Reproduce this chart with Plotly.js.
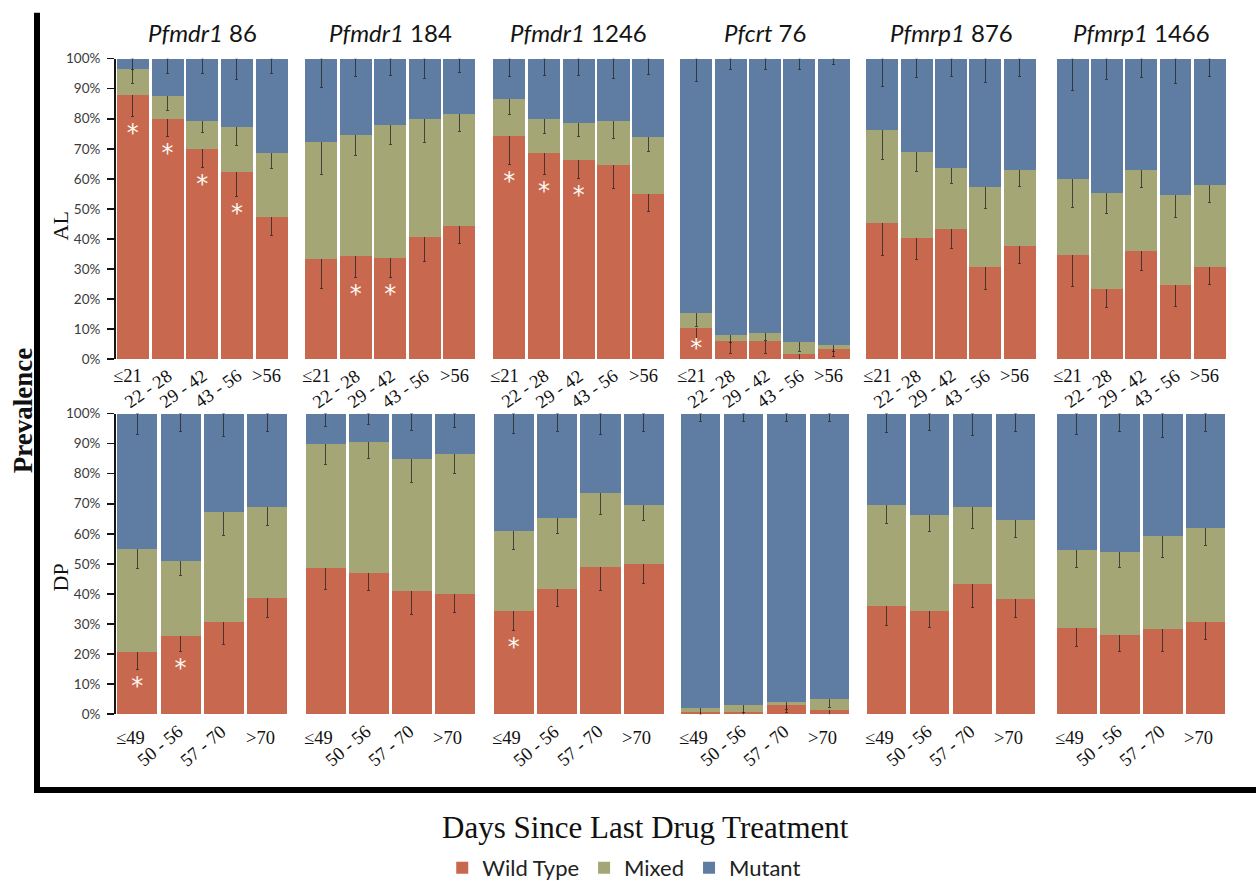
<!DOCTYPE html>
<html><head><meta charset="utf-8">
<script src="https://cdn.plot.ly/plotly-3.0.1.min.js"></script>
<style>html,body{margin:0;padding:0;background:#fff}#chart{width:1256px;height:889px}</style>
</head><body><div id="chart"></div>
<script>
// ---------- data ----------
const GENES = ['Pfmdr1','Pfmdr1','Pfmdr1','Pfcrt','Pfmrp1','Pfmrp1'];
const CODONS = ['86','184','1246','76','876','1466'];
const ROW_LABELS = ['AL','DP'];
const AL_CATS = ['≤21','22 - 28','29 - 42','43 - 56','>56'];
const DP_CATS = ['≤49','50 - 56','57 - 70','>70'];
const SERIES = ['Wild Type','Mixed','Mutant'];
const Y_TICKVALS = [0,10,20,30,40,50,60,70,80,90,100];
const Y_TICKTEXT = ['0%','10%','20%','30%','40%','50%','60%','70%','80%','90%','100%'];
const X_TITLE = 'Days Since Last Drug Treatment';
const Y_TITLE = 'Prevalence';

// AL row (percent), one inner array per gene panel
const AL_WILD   = [[87.8,80.0,69.9,62.2,47.3],[33.4,34.2,33.6,40.5,44.4],[74.3,68.5,66.3,64.6,55.1],[10.4,6.0,6.0,1.6,3.3],[45.4,40.3,43.2,30.7,37.6],[34.8,23.2,36.1,24.6,30.7]];
const AL_MIXED  = [[8.8,7.6,9.5,15.0,21.2],[38.7,40.5,44.2,39.5,37.2],[12.2,11.5,12.3,14.8,18.8],[5.1,2.2,2.7,4.1,1.3],[31.0,28.7,20.5,26.5,25.2],[25.2,32.1,26.9,29.9,27.1]];
const AL_MUTANT = [[3.4,12.4,20.6,22.8,31.5],[27.9,25.3,22.2,20.0,18.4],[13.5,20.0,21.4,20.6,26.1],[84.5,91.8,91.3,94.3,95.4],[23.6,31.0,36.3,42.8,37.2],[40.0,44.7,37.0,45.5,42.2]];
const AL_ERR_WILD   = [[7,6,6,8,6],[10,7,6.5,8,6],[9.5,7,6.3,7.8,6],[6,4,4,2.5,2.5],[11,7,6.5,7.4,5.7],[10.5,6,6.5,7.2,5.8]];
const AL_ERR_MIXED  = [[5,5,4,6,5],[10.5,7,6.5,8,6],[5,5,4.5,6,4.7],[4.7,2.5,2.5,3,2],[10,6.5,5.3,7.2,5.3],[9.4,6.7,5.8,7.5,5.5]];
const AL_ERR_MUTANT = [[3.5,5,5,7,5],[9.6,6,5.6,6.7,4.5],[6,5.6,5.6,6.7,5.3],[7.7,3.6,3.6,3.5,2],[9.3,6.3,6,8,5.8],[10.7,6.9,6.3,8.2,6]];
const AL_SIG = [[1,1,1,1,0],[0,1,1,0,0],[1,1,1,0,0],[1,0,0,0,0],[0,0,0,0,0],[0,0,0,0,0]];

// DP row
const DP_WILD   = [[20.7,26.0,30.6,38.6],[48.5,47.0,41.1,40.0],[34.4,41.6,49.0,49.8],[0.7,0.8,3.0,1.3],[36.1,34.2,43.3,38.3],[28.7,26.2,28.2,30.6]];
const DP_MIXED  = [[34.3,24.9,36.5,30.2],[41.4,43.7,43.9,46.6],[26.5,23.6,24.5,19.7],[1.3,2.4,1.0,3.6],[33.5,32.0,25.5,26.3],[26.0,27.7,31.2,31.3]];
const DP_MUTANT = [[45.0,49.1,32.9,31.2],[10.1,9.3,15.0,13.4],[39.1,34.8,26.5,30.5],[98.0,96.8,96.0,95.1],[30.4,33.8,31.2,35.4],[45.3,46.1,40.6,38.1]];
const DP_ERR_WILD   = [[5.7,5,7.4,6.4],[6.9,5.9,7.9,6.3],[6.6,5.8,8,6.4],[1.5,1.5,2.5,2],[6.6,5.5,7.8,6],[6.3,5.2,7.3,5.8]];
const DP_ERR_MIXED  = [[6.4,4.9,7.5,5.9],[6.7,5.5,7.8,6.4],[6.2,5.1,7,5.1],[2,2.5,2.5,2.8],[6.3,5.3,7,5.8],[5.9,5.2,7.4,5.9]];
const DP_ERR_MUTANT = [[6.9,5.8,7.7,6],[4.4,3.6,5.5,4.7],[6.6,5.8,7.1,6],[2.5,2.5,2.5,2.5],[6.2,5.5,7.4,6],[6.9,5.8,8,6]];
const DP_SIG = [[1,1,0,0],[0,0,0,0],[1,0,0,0],[0,0,0,0],[0,0,0,0],[0,0,0,0]];

// ---------- styling / layout ----------
const COLORS = ['#C8684F','#A4A775','#5F7CA3'];
const W = 1256, H = 889;
const COL_PX = [[115.5,289],[304,476.5],[492,665.5],[679,851],[865,1037],[1055.5,1227]];
const ROW_PX = [[59.3,363.3],[418.3,722.3]];
const px = p => p / W, py = p => 1 - p / H;
const SANS = 'Lato, "Open Sans", sans-serif';
const SERIF = '"Liberation Serif", "Times New Roman", serif';

const rows = [
  {cats: AL_CATS, wild: AL_WILD, mixed: AL_MIXED, mut: AL_MUTANT, ew: AL_ERR_WILD, em: AL_ERR_MIXED, eu: AL_ERR_MUTANT, sig: AL_SIG, angle: -35},
  {cats: DP_CATS, wild: DP_WILD, mixed: DP_MIXED, mut: DP_MUTANT, ew: DP_ERR_WILD, em: DP_ERR_MIXED, eu: DP_ERR_MUTANT, sig: DP_SIG, angle: -40}
];

const traces = [];
const layout = {
  width: W, height: H,
  margin: {l: 0, r: 0, t: 0, b: 0},
  paper_bgcolor: '#fff', plot_bgcolor: '#fff',
  barmode: 'stack', bargap: 0.075,
  showlegend: true,
  legend: {orientation: 'h', x: 0.497, xanchor: 'center', y: py(878), yanchor: 'middle',
           font: {family: SANS, size: 22, color: '#222'}, traceorder: 'normal', itemwidth: 30},
  annotations: [], shapes: []
};
const errStyle = {color: 'rgba(35,35,35,0.75)', thickness: 1, width: 1.5};

rows.forEach((R, r) => {
  for (let c = 0; c < 6; c++) {
    const k = r * 6 + c + 1;
    const xa = 'x' + k, ya = 'y' + k;
    const n = R.cats.length;
    const segs = [R.wild[c], R.mixed[c], R.mut[c]];
    const errs = [R.ew[c], R.em[c], R.eu[c]];
    segs.forEach((vals, s) => {
      const ey = s < 2
        ? Object.assign({type: 'data', array: errs[s], visible: true}, errStyle)
        : Object.assign({type: 'data', symmetric: false, array: vals.map(() => 0), arrayminus: errs[s], visible: true}, errStyle);
      traces.push({
        type: 'bar', x: R.cats, y: vals, name: SERIES[s], xaxis: xa, yaxis: ya,
        marker: {color: COLORS[s], line: {width: 0}},
        error_y: ey, showlegend: k === 1, legendgroup: SERIES[s], hoverinfo: 'x+y+name'
      });
    });
    // significance asterisks
    const sx = [], sy = [];
    R.sig[c].forEach((f, i) => {
      if (f) {
        const w = R.wild[c][i];
        sx.push(R.cats[i]);
        sy.push(Math.max(w - R.ew[c][i] - 4, w / 2) - 2.2);
      }
    });
    traces.push({type: 'scatter', mode: 'text', x: sx, y: sy, text: sx.map(() => '*'),
      textposition: 'middle center', textfont: {family: '"DejaVu Sans", sans-serif', size: 24, color: '#fdf6ee'},
      xaxis: xa, yaxis: ya, showlegend: false, hoverinfo: 'skip'});

    const xdom = [px(COL_PX[c][0]), px(COL_PX[c][1])];
    const ydom = [py(ROW_PX[r][1]), py(ROW_PX[r][0])];
    layout['xaxis' + k] = {domain: xdom, anchor: ya, type: 'category', categoryorder: 'array',
      categoryarray: R.cats, range: [-0.5, n - 0.5], showticklabels: false, ticks: '',
      showgrid: false, zeroline: false, showline: false, fixedrange: true};
    const yax = {domain: ydom, anchor: xa, range: [0, 100], showgrid: false, zeroline: false,
      fixedrange: true, tickvals: Y_TICKVALS, ticktext: Y_TICKTEXT};
    if (c === 0) {
      Object.assign(yax, {showline: true, linecolor: '#151515', linewidth: 1.5, ticks: 'outside',
        ticklen: 7, tickwidth: 1.5, tickcolor: '#151515', showticklabels: true, ticklabelstandoff: 4,
        tickfont: {family: SANS, size: 13.5, color: '#3a3a3a'}});
    } else {
      Object.assign(yax, {showline: false, ticks: '', showticklabels: false});
    }
    layout['yaxis' + k] = yax;

    // panel titles (top row)
    if (r === 0) {
      layout.annotations.push({xref: xa + ' domain', yref: 'paper', x: 0.5, y: py(33),
        xanchor: 'center', yanchor: 'middle', showarrow: false,
        text: '<i>' + GENES[c] + '</i> ' + CODONS[c], font: {family: SANS, size: 24, color: '#141414'}});
    }
    // category labels
    R.cats.forEach((lab, i) => {
      const rotated = lab.indexOf(' - ') >= 0;
      layout.annotations.push(rotated ? {
        xref: xa, yref: 'paper', x: i, y: py(ROW_PX[r][1]), xanchor: 'right', yanchor: 'top',
        xshift: r ? 7 : 9, yshift: r ? -6 : -5, textangle: R.angle, showarrow: false, text: lab, borderpad: 0,
        font: {family: SERIF, size: 18.5, color: '#111'}
      } : {
        xref: xa, yref: 'paper', x: i, y: py(ROW_PX[r][1]), xanchor: 'center', yanchor: 'middle',
        xshift: r ? -7 : -5, yshift: r ? -24 : -17, showarrow: false, text: lab, borderpad: 0,
        font: {family: SERIF, size: 18.5, color: '#111'}
      });
    });
  }
  // row labels
  layout.annotations.push({xref: 'paper', yref: 'paper', x: px(60), y: py(r ? 584 : 229),
    xanchor: 'center', yanchor: 'middle', textangle: -90, showarrow: false, text: ROW_LABELS[r],
    font: {family: SERIF, size: 22, color: '#111'}});
});

// overall titles
layout.annotations.push({xref: 'paper', yref: 'paper', x: px(23), y: py(416), xanchor: 'center',
  yanchor: 'middle', textangle: -90, showarrow: false, text: '<b>' + Y_TITLE + '</b>',
  font: {family: SERIF, size: 27, color: '#111'}});
layout.annotations.push({xref: 'paper', yref: 'paper', x: px(645), y: py(837), xanchor: 'center',
  yanchor: 'middle', showarrow: false, text: X_TITLE, font: {family: SERIF, size: 31, color: '#111'}});

// L-shaped frame
layout.shapes.push({type: 'line', xref: 'paper', yref: 'paper', x0: px(37), x1: px(37), y0: py(13), y1: py(802),
  line: {color: '#000', width: 6}});
layout.shapes.push({type: 'line', xref: 'paper', yref: 'paper', x0: px(34), x1: px(1256), y0: py(799), y1: py(799),
  line: {color: '#000', width: 6}});

Plotly.newPlot('chart', traces, layout, {displayModeBar: false, staticPlot: true});
</script></body></html>
